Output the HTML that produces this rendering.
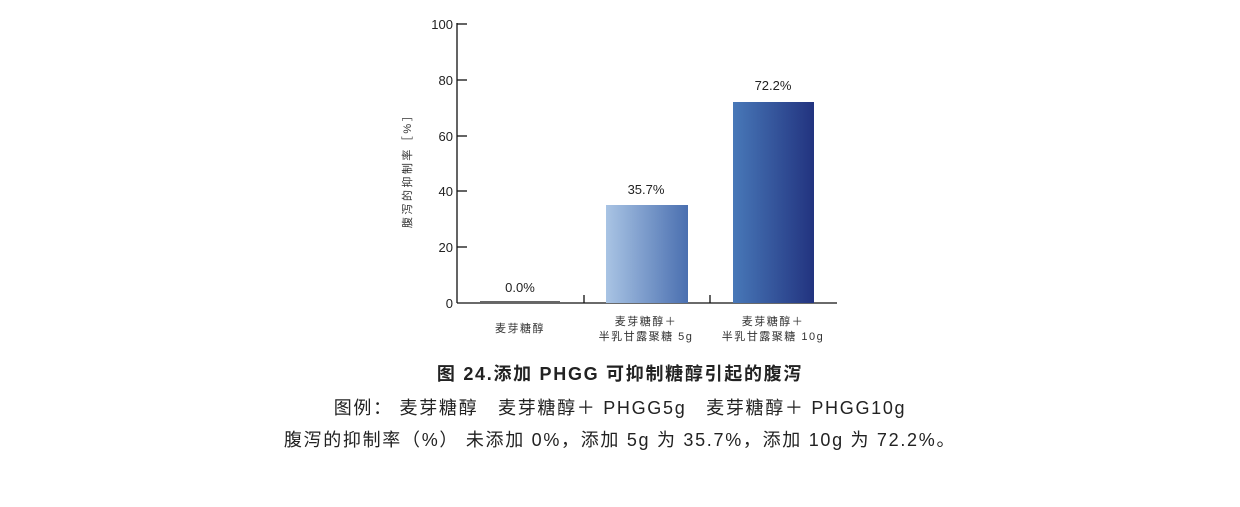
<!DOCTYPE html>
<html><head><meta charset="utf-8"><style>
body{margin:0;background:#fff;width:1240px;height:507px;overflow:hidden;position:relative;font-family:"Liberation Sans","Noto Sans CJK SC",sans-serif;}
.t{position:absolute;left:0;width:1240px;text-align:center;color:#222;white-space:nowrap;letter-spacing:1.7px;}
</style></head><body>
<svg width="1240" height="360" style="position:absolute;left:0;top:0" font-family="Liberation Sans, Noto Sans CJK SC, sans-serif">
<defs>
<linearGradient id="g1" x1="0" x2="1"><stop offset="0" stop-color="#a9c4e4"/><stop offset="1" stop-color="#4a6fb0"/></linearGradient>
<linearGradient id="g2" x1="0" x2="1"><stop offset="0" stop-color="#4878b8"/><stop offset="1" stop-color="#22337f"/></linearGradient>
</defs>
<g stroke="#111" stroke-width="1.3">
<line x1="457" y1="23" x2="457" y2="303"/>
<line x1="457" y1="303" x2="837" y2="303"/>
<line x1="457" y1="24" x2="467" y2="24"/>
<line x1="457" y1="80" x2="467" y2="80"/>
<line x1="457" y1="136" x2="467" y2="136"/>
<line x1="457" y1="191" x2="467" y2="191"/>
<line x1="457" y1="247" x2="467" y2="247"/>
<line x1="584" y1="295" x2="584" y2="303"/>
<line x1="710" y1="295" x2="710" y2="303"/>
</g>
<g font-size="13" fill="#222" text-anchor="end">
<text x="453" y="29">100</text><text x="453" y="85">80</text><text x="453" y="141">60</text>
<text x="453" y="196">40</text><text x="453" y="252">20</text><text x="453" y="308">0</text>
</g>
<rect x="480" y="301" width="80" height="2" fill="#666"/>
<rect x="606" y="205" width="82" height="98" fill="url(#g1)"/>
<rect x="733" y="102" width="81" height="201" fill="url(#g2)"/>
<g font-size="13" fill="#222" text-anchor="middle">
<text x="520" y="292">0.0%</text><text x="646" y="194">35.7%</text><text x="773" y="90">72.2%</text>
</g>
<g font-size="11" fill="#333" text-anchor="middle" letter-spacing="1.5">
<text x="520" y="332">麦芽糖醇</text>
<text x="646" y="325">麦芽糖醇＋</text><text x="646" y="340">半乳甘露聚糖 5g</text>
<text x="773" y="325">麦芽糖醇＋</text><text x="773" y="340">半乳甘露聚糖 10g</text>
</g>
<text transform="translate(411,168) rotate(-90)" font-size="11" fill="#333" text-anchor="middle" letter-spacing="2.5">腹泻的抑制率［%］</text>
</svg>
<div class="t" style="top:360px;font-size:18px;font-weight:bold;">图 24.添加 PHGG 可抑制糖醇引起的腹泻</div>
<div class="t" style="top:394px;font-size:18px;">图例： 麦芽糖醇　麦芽糖醇＋ PHGG5g　麦芽糖醇＋ PHGG10g</div>
<div class="t" style="top:426px;font-size:18px;">腹泻的抑制率（%） 未添加 0%，添加 5g 为 35.7%，添加 10g 为 72.2%。</div>
</body></html>
